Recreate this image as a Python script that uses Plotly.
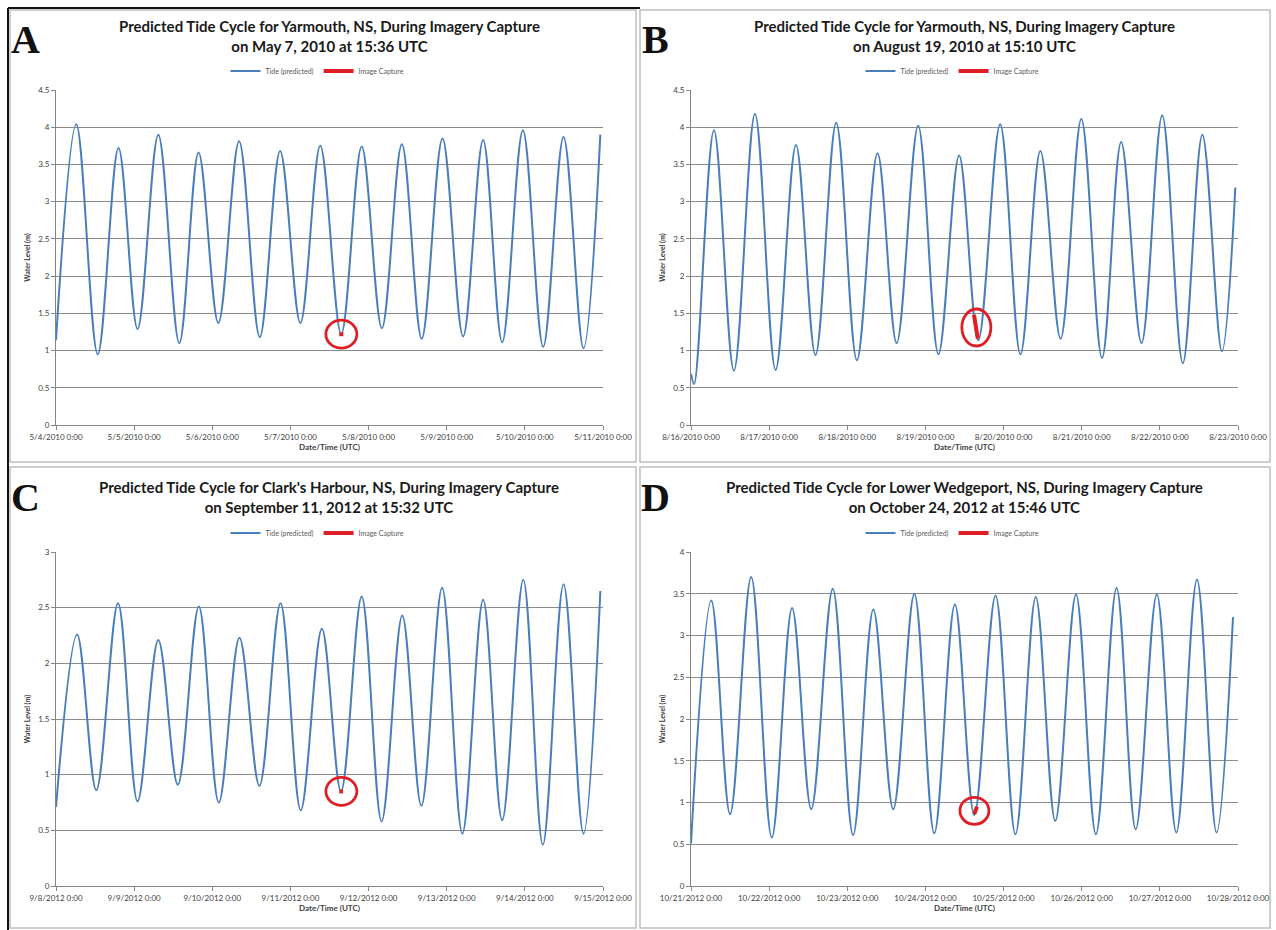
import plotly.graph_objects as go

# ---------------- DATA ----------------
# Panel A: Yarmouth, May 2010
a_times = ["2010-05-04 00:00", "2010-05-04 06:14", "2010-05-04 12:49", "2010-05-04 19:12",
           "2010-05-05 01:03", "2010-05-05 07:25", "2010-05-05 13:52", "2010-05-05 19:47",
           "2010-05-06 01:52", "2010-05-06 08:14", "2010-05-06 14:35", "2010-05-06 20:50",
           "2010-05-07 03:03", "2010-05-07 09:10", "2010-05-07 15:36", "2010-05-07 21:53",
           "2010-05-08 04:05", "2010-05-08 10:13", "2010-05-08 16:19", "2010-05-08 22:42",
           "2010-05-09 05:02", "2010-05-09 11:11", "2010-05-09 17:02", "2010-05-09 23:24",
           "2010-05-10 05:38", "2010-05-10 11:53", "2010-05-10 18:00", "2010-05-10 23:11"]
a_levels = [1.14, 4.04, 0.95, 3.72, 1.29, 3.90, 1.10, 3.66, 1.37, 3.81, 1.18, 3.68, 1.37, 3.75,
            1.22, 3.74, 1.30, 3.77, 1.16, 3.85, 1.19, 3.83, 1.11, 3.96, 1.05, 3.87, 1.03, 3.90]
a_capture_times = ["2010-05-07 15:00", "2010-05-07 16:15"]
a_capture_levels = [1.22, 1.22]
a_circle = ("2010-05-07 15:39", 1.22)
a_ticks = ["2010-05-04", "2010-05-05", "2010-05-06", "2010-05-07",
           "2010-05-08", "2010-05-09", "2010-05-10", "2010-05-11"]
a_ticklabels = ["5/4/2010 0:00", "5/5/2010 0:00", "5/6/2010 0:00", "5/7/2010 0:00",
                "5/8/2010 0:00", "5/9/2010 0:00", "5/10/2010 0:00", "5/11/2010 0:00"]

# Panel B: Yarmouth, August 2010
b_times = ["2010-08-16 00:00", "2010-08-16 00:58", "2010-08-16 07:03", "2010-08-16 13:11",
           "2010-08-16 19:39", "2010-08-17 01:59", "2010-08-17 08:14", "2010-08-17 14:14",
           "2010-08-17 20:36", "2010-08-18 02:57", "2010-08-18 09:17", "2010-08-18 15:10",
           "2010-08-18 21:46", "2010-08-19 04:00", "2010-08-19 10:21", "2010-08-19 16:13",
           "2010-08-19 22:57", "2010-08-20 05:11", "2010-08-20 11:18", "2010-08-20 17:31",
           "2010-08-20 23:53", "2010-08-21 06:14", "2010-08-21 12:07", "2010-08-21 18:22",
           "2010-08-22 00:43", "2010-08-22 07:03", "2010-08-22 13:03", "2010-08-22 19:03",
           "2010-08-22 23:11"]
b_levels = [0.69, 0.55, 3.96, 0.73, 4.18, 0.74, 3.76, 0.94, 4.06, 0.87, 3.65, 1.10, 4.02, 0.95,
            3.62, 1.14, 4.04, 0.95, 3.68, 1.16, 4.11, 0.90, 3.80, 1.10, 4.16, 0.83, 3.90, 0.99,
            3.19]
b_capture_times = ["2010-08-19 14:55", "2010-08-19 16:05"]
b_capture_levels = [1.48, 1.16]
b_circle = ("2010-08-19 15:39", 1.31)
b_ticks = ["2010-08-16", "2010-08-17", "2010-08-18", "2010-08-19",
           "2010-08-20", "2010-08-21", "2010-08-22", "2010-08-23"]
b_ticklabels = ["8/16/2010 0:00", "8/17/2010 0:00", "8/18/2010 0:00", "8/19/2010 0:00",
                "8/20/2010 0:00", "8/21/2010 0:00", "8/22/2010 0:00", "8/23/2010 0:00"]

# Panel C: Clark's Harbour, September 2012
c_times = ["2012-09-08 00:00", "2012-09-08 06:29", "2012-09-08 12:22", "2012-09-08 19:03",
           "2012-09-09 01:03", "2012-09-09 07:25", "2012-09-09 13:25", "2012-09-09 19:52",
           "2012-09-10 02:00", "2012-09-10 08:21", "2012-09-10 14:28", "2012-09-10 20:57",
           "2012-09-11 03:10", "2012-09-11 09:39", "2012-09-11 15:32", "2012-09-11 21:53",
           "2012-09-12 04:00", "2012-09-12 10:21", "2012-09-12 16:13", "2012-09-12 22:35",
           "2012-09-13 04:48", "2012-09-13 11:11", "2012-09-13 17:02", "2012-09-13 23:31",
           "2012-09-14 05:31", "2012-09-14 11:53", "2012-09-14 18:00", "2012-09-14 23:11"]
c_levels = [0.71, 2.26, 0.86, 2.54, 0.76, 2.21, 0.91, 2.51, 0.75, 2.23, 0.90, 2.54, 0.68, 2.31,
            0.85, 2.60, 0.58, 2.43, 0.72, 2.68, 0.47, 2.57, 0.59, 2.75, 0.37, 2.71, 0.47, 2.65]
c_capture_times = ["2012-09-11 15:00", "2012-09-11 16:10"]
c_capture_levels = [0.85, 0.85]
c_circle = ("2012-09-11 15:39", 0.85)
c_ticks = ["2012-09-08", "2012-09-09", "2012-09-10", "2012-09-11",
           "2012-09-12", "2012-09-13", "2012-09-14", "2012-09-15"]
c_ticklabels = ["9/8/2012 0:00", "9/9/2012 0:00", "9/10/2012 0:00", "9/11/2012 0:00",
                "9/12/2012 0:00", "9/13/2012 0:00", "9/14/2012 0:00", "9/15/2012 0:00"]

# Panel D: Lower Wedgeport, October 2012
d_times = ["2012-10-21 00:00", "2012-10-21 06:14", "2012-10-21 12:00", "2012-10-21 18:29",
           "2012-10-22 00:49", "2012-10-22 07:03", "2012-10-22 12:56", "2012-10-22 19:32",
           "2012-10-23 01:47", "2012-10-23 08:00", "2012-10-23 14:07", "2012-10-23 20:36",
           "2012-10-24 02:43", "2012-10-24 09:03", "2012-10-24 15:00", "2012-10-24 21:32",
           "2012-10-25 03:39", "2012-10-25 09:53", "2012-10-25 15:53", "2012-10-25 22:14",
           "2012-10-26 04:21", "2012-10-26 10:42", "2012-10-26 16:35", "2012-10-26 23:04",
           "2012-10-27 05:04", "2012-10-27 11:24", "2012-10-27 17:24", "2012-10-27 22:28"]
d_levels = [0.51, 3.42, 0.86, 3.70, 0.58, 3.33, 0.92, 3.56, 0.61, 3.31, 0.92, 3.50, 0.63, 3.37,
            0.85, 3.48, 0.62, 3.46, 0.78, 3.49, 0.62, 3.57, 0.68, 3.49, 0.64, 3.67, 0.64, 3.22]
d_capture_times = ["2012-10-24 15:00", "2012-10-24 15:50"]
d_capture_levels = [0.86, 0.95]
d_circle = ("2012-10-24 15:03", 0.90)
d_ticks = ["2012-10-21", "2012-10-22", "2012-10-23", "2012-10-24",
           "2012-10-25", "2012-10-26", "2012-10-27", "2012-10-28"]
d_ticklabels = ["10/21/2012 0:00", "10/22/2012 0:00", "10/23/2012 0:00", "10/24/2012 0:00",
                "10/25/2012 0:00", "10/26/2012 0:00", "10/27/2012 0:00", "10/28/2012 0:00"]

letters = ["A", "B", "C", "D"]
titles = [
    "Predicted Tide Cycle for Yarmouth, NS, During Imagery Capture<br>on May 7, 2010 at 15:36 UTC",
    "Predicted Tide Cycle for Yarmouth, NS, During Imagery Capture<br>on August 19, 2010 at 15:10 UTC",
    "Predicted Tide Cycle for Clark's Harbour, NS, During Imagery Capture<br>on September 11, 2012 at 15:32 UTC",
    "Predicted Tide Cycle for Lower Wedgeport, NS, During Imagery Capture<br>on October 24, 2012 at 15:46 UTC",
]
y_max = [4.5, 4.5, 3, 4]
series_names = ["Tide (predicted)", "Image Capture"]

# ---------------- LAYOUT ----------------
W, H = 1276, 930
FONT = "Lato"
TIDE_COLOR = "#4A7EBB"
RED = "#E01E25"
GRID = "#8C8C8C"

# plot-area pixel boxes (left, right, top, bottom) per panel
boxes = [(56, 603, 90, 425), (691, 1238, 90, 425), (56, 603, 552, 886), (691, 1238, 552, 886)]
frames = [(10, 636, 10, 462), (640, 1270, 10, 462), (10, 636, 467, 928), (640, 1270, 467, 928)]

panels = [
    (a_times, a_levels, a_capture_times, a_capture_levels, a_circle, a_ticks, a_ticklabels, (31, 28)),
    (b_times, b_levels, b_capture_times, b_capture_levels, b_circle, b_ticks, b_ticklabels, (29, 37)),
    (c_times, c_levels, c_capture_times, c_capture_levels, c_circle, c_ticks, c_ticklabels, (31, 28)),
    (d_times, d_levels, d_capture_times, d_capture_levels, d_circle, d_ticks, d_ticklabels, (29, 27)),
]


def px(x):
    return x / W


def py(y):
    return 1 - y / H


fig = go.Figure()
shapes = []
annotations = []
layout = dict(
    width=W, height=H, margin=dict(l=0, r=0, t=0, b=0, autoexpand=False),
    paper_bgcolor="white", plot_bgcolor="white",
    font=dict(family=FONT, color="#404040"),
)

for i, (times, levels, ct, cl, circ, ticks, ticklabels, csize) in enumerate(panels):
    n = i + 1
    xa = "x" if n == 1 else f"x{n}"
    ya = "y" if n == 1 else f"y{n}"
    lg = "legend" if n == 1 else f"legend{n}"
    l, r, t, b = boxes[i]

    fig.add_trace(go.Scatter(
        x=times, y=levels, mode="lines", name=series_names[0],
        line=dict(color=TIDE_COLOR, width=2.0, shape="spline", smoothing=1.0),
        xaxis=xa, yaxis=ya, legend=lg,
    ))
    fig.add_trace(go.Scatter(
        x=ct, y=cl, mode="lines", name=series_names[1],
        line=dict(color=RED, width=4),
        xaxis=xa, yaxis=ya, legend=lg,
    ))

    layout["xaxis" if n == 1 else f"xaxis{n}"] = dict(
        domain=[px(l), px(r)], anchor=ya, type="date", automargin=False,
        range=[ticks[0], ticks[-1]],
        tickmode="array", tickvals=ticks, ticktext=ticklabels,
        tickfont=dict(size=8, color="#404040", family=FONT),
        ticks="outside", ticklen=4, tickcolor="#868686",
        showline=True, linecolor="#868686", linewidth=1,
        showgrid=False, zeroline=False,
        title=dict(text="<b>Date/Time (UTC)</b>", font=dict(size=8, color="#404040", family=FONT), standoff=3),
    )
    layout["yaxis" if n == 1 else f"yaxis{n}"] = dict(
        domain=[py(b), py(t)], anchor=xa, automargin=False,
        range=[0, y_max[i]], dtick=0.5,
        tickfont=dict(size=8, color="#404040", family=FONT),
        ticks="outside", ticklen=4, tickcolor="#868686",
        showline=True, linecolor="#868686", linewidth=1,
        showgrid=True, gridcolor=GRID, gridwidth=1, zeroline=False,
        title=dict(text="<b>Water Level (m)</b>", font=dict(size=7, color="#404040", family=FONT), standoff=6),
    )

    cx = (l + r) / 2
    layout[lg] = dict(
        orientation="h", x=px(cx - 12), y=py(t - 19), xanchor="center", yanchor="middle",
        font=dict(size=7, color="#595959", family=FONT), bgcolor="rgba(0,0,0,0)",
        itemwidth=30, tracegroupgap=0,
    )

    # red ring around the capture point
    shapes.append(dict(
        type="circle", xref=xa, yref=ya, xsizemode="pixel", ysizemode="pixel",
        xanchor=circ[0], yanchor=circ[1],
        x0=-csize[0] / 2, x1=csize[0] / 2, y0=-csize[1] / 2, y1=csize[1] / 2,
        line=dict(color=RED, width=2.8), fillcolor="rgba(0,0,0,0)",
    ))

    # panel frame
    fl, fr, ft, fb = frames[i]
    shapes.append(dict(type="rect", xref="paper", yref="paper",
                       x0=px(fl), x1=px(fr), y0=py(fb), y1=py(ft),
                       line=dict(color="#BFBFBF", width=1.5), layer="below"))

    # title
    annotations.append(dict(
        text="<b>" + titles[i] + "</b>", xref="paper", yref="paper",
        x=px(cx), y=py(36) if i < 2 else py(497), xanchor="center", yanchor="middle",
        showarrow=False, font=dict(size=15, color="#1a1a1a", family=FONT),
        align="center",
    ))
    # panel letter
    annotations.append(dict(
        text="<b>" + letters[i] + "</b>", xref="paper", yref="paper",
        x=px(fl + 15), y=py(ft + 30), xanchor="center", yanchor="middle",
        showarrow=False, font=dict(size=40, color="#111111", family="Liberation Serif"),
    ))

# outer dark edge of the composite
shapes.append(dict(type="line", xref="paper", yref="paper", x0=px(8), x1=px(8), y0=0, y1=py(8),
                   line=dict(color="#111111", width=2)))
shapes.append(dict(type="line", xref="paper", yref="paper", x0=px(8), x1=px(640), y0=py(8), y1=py(8),
                   line=dict(color="#111111", width=2)))

layout["shapes"] = shapes
layout["annotations"] = annotations
layout["showlegend"] = True
fig.update_layout(**layout)

fig.write_html("out.html", config={"displayModeBar": False},
               post_script="document.body.style.margin='0';document.body.style.overflow='hidden';")
